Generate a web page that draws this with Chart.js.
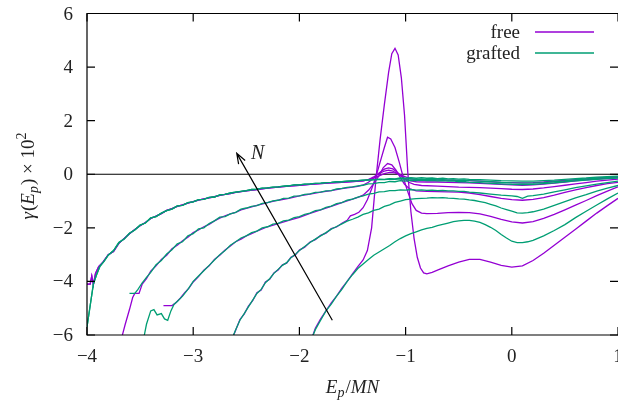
<!DOCTYPE html>
<html>
<head>
<meta charset="utf-8">
<script src="https://cdn.jsdelivr.net/npm/chart.js@4.4.1/dist/chart.umd.min.js"></script>
<style>
  html, body { margin: 0; padding: 0; background: #fff; }
  #wrap { width: 618px; height: 402px; position: relative; }
</style>
</head>
<body>
<div id="wrap"><canvas id="chartGamma"></canvas></div>
<script>
// axis ticks
const xTicks = [-4, -3, -2, -1, 0, 1];
const yTicks = [-6, -4, -2, 0, 2, 4, 6];
const legendLabels = ['free', 'grafted'];

// shared left branch of the two largest N (they collapse on each other)
const topLeftFree = [[-4.00,-4.1],[-3.97,-4.1],[-3.955,-3.8],[-3.94,-4.12],[-3.92,-3.7],[-3.89,-3.45],[-3.85,-3.28],[-3.80,-3.0],[-3.75,-2.88],[-3.70,-2.58],[-3.65,-2.4],[-3.60,-2.22],[-3.55,-2.06],[-3.50,-1.92],[-3.45,-1.8],[-3.40,-1.65],[-3.35,-1.56],[-3.30,-1.47],[-3.25,-1.35],[-3.20,-1.28],[-3.15,-1.2],[-3.10,-1.14],[-3.05,-1.08],[-3.00,-1.02],[-2.95,-0.97],[-2.90,-0.92],[-2.85,-0.88],[-2.80,-0.84],[-2.75,-0.79],[-2.70,-0.75],[-2.65,-0.72],[-2.60,-0.68],[-2.55,-0.65],[-2.50,-0.62],[-2.40,-0.57],[-2.30,-0.52],[-2.20,-0.48],[-2.10,-0.44],[-2.00,-0.41],[-1.90,-0.38],[-1.80,-0.35],[-1.70,-0.32],[-1.60,-0.3],[-1.50,-0.27],[-1.40,-0.25]];
const topLeftGrafted = [[-4.00,-5.7],[-3.97,-4.9],[-3.94,-4.1],[-3.91,-3.75],[-3.88,-3.45],[-3.84,-3.25],[-3.80,-3.02],[-3.75,-2.85],[-3.70,-2.55],[-3.65,-2.42],[-3.60,-2.2],[-3.55,-2.08],[-3.50,-1.9],[-3.45,-1.82],[-3.40,-1.63],[-3.35,-1.58],[-3.30,-1.45],[-3.25,-1.36],[-3.20,-1.3],[-3.15,-1.18],[-3.10,-1.16],[-3.05,-1.06],[-3.00,-1.03],[-2.95,-0.95],[-2.90,-0.94],[-2.85,-0.86],[-2.80,-0.85],[-2.75,-0.77],[-2.70,-0.75],[-2.65,-0.7],[-2.60,-0.67],[-2.55,-0.64],[-2.50,-0.61],[-2.45,-0.57],[-2.40,-0.56],[-2.35,-0.52],[-2.30,-0.51],[-2.25,-0.48],[-2.20,-0.47],[-2.15,-0.44],[-2.10,-0.43],[-2.05,-0.4],[-2.00,-0.4],[-1.95,-0.37],[-1.90,-0.36],[-1.85,-0.34],[-1.80,-0.33],[-1.75,-0.31],[-1.70,-0.3],[-1.65,-0.28],[-1.60,-0.28],[-1.55,-0.26],[-1.50,-0.25],[-1.45,-0.24],[-1.40,-0.22]];

// largest N
const freeN6Right = [[-1.35,-0.2],[-1.30,-0.14],[-1.25,-0.06],[-1.20,0.02],[-1.15,0.07],[-1.10,0.05],[-1.05,-0.02],[-1.00,-0.1],[-0.95,-0.17],[-0.90,-0.2],[-0.80,-0.21],[-0.70,-0.21],[-0.60,-0.22],[-0.50,-0.23],[-0.40,-0.24],[-0.30,-0.26],[-0.20,-0.28],[-0.10,-0.3],[0.00,-0.31],[0.10,-0.32],[0.20,-0.31],[0.30,-0.29],[0.40,-0.26],[0.50,-0.23],[0.60,-0.2],[0.70,-0.17],[0.80,-0.14],[0.90,-0.12],[1.00,-0.1]];
const graftedN6Right = [[-1.35,-0.21],[-1.30,-0.2],[-1.25,-0.18],[-1.20,-0.19],[-1.15,-0.16],[-1.10,-0.17],[-1.05,-0.14],[-1.00,-0.15],[-0.95,-0.13],[-0.90,-0.15],[-0.85,-0.13],[-0.80,-0.15],[-0.75,-0.14],[-0.70,-0.16],[-0.65,-0.15],[-0.60,-0.17],[-0.55,-0.16],[-0.50,-0.18],[-0.45,-0.17],[-0.40,-0.19],[-0.30,-0.2],[-0.20,-0.22],[-0.10,-0.24],[0.00,-0.25],[0.10,-0.26],[0.20,-0.26],[0.30,-0.24],[0.40,-0.22],[0.50,-0.19],[0.60,-0.16],[0.70,-0.14],[0.80,-0.11],[0.90,-0.09],[1.00,-0.07]];

const freeN5Right = [[-1.35,-0.2],[-1.30,-0.1],[-1.25,0.02],[-1.20,0.12],[-1.16,0.15],[-1.12,0.12],[-1.08,0.03],[-1.04,-0.08],[-1.00,-0.18],[-0.95,-0.25],[-0.90,-0.28],[-0.80,-0.29],[-0.70,-0.29],[-0.60,-0.3],[-0.50,-0.31],[-0.40,-0.32],[-0.30,-0.34],[-0.20,-0.36],[-0.10,-0.38],[0.00,-0.4],[0.10,-0.41],[0.20,-0.4],[0.30,-0.37],[0.40,-0.33],[0.50,-0.29],[0.60,-0.25],[0.70,-0.21],[0.80,-0.18],[0.90,-0.15],[1.00,-0.12]];
const graftedN5Right = [[-1.35,-0.22],[-1.30,-0.21],[-1.25,-0.2],[-1.20,-0.2],[-1.15,-0.18],[-1.10,-0.19],[-1.05,-0.17],[-1.00,-0.18],[-0.95,-0.17],[-0.90,-0.19],[-0.85,-0.18],[-0.80,-0.2],[-0.75,-0.19],[-0.70,-0.21],[-0.65,-0.2],[-0.60,-0.22],[-0.55,-0.21],[-0.50,-0.23],[-0.45,-0.22],[-0.40,-0.24],[-0.30,-0.26],[-0.20,-0.28],[-0.10,-0.3],[0.00,-0.32],[0.10,-0.33],[0.20,-0.33],[0.30,-0.31],[0.40,-0.28],[0.50,-0.25],[0.60,-0.21],[0.70,-0.18],[0.80,-0.15],[0.90,-0.12],[1.00,-0.1]];

const freeN4 = [[-3.68,-6.2],[-3.64,-5.6],[-3.60,-5.05],[-3.57,-4.6],[-3.55,-4.45],[-3.51,-4.45],[-3.48,-4.1],[-3.44,-3.9],[-3.40,-3.62],[-3.35,-3.42],[-3.30,-3.18],[-3.25,-3.02],[-3.20,-2.78],[-3.15,-2.65],[-3.10,-2.48],[-3.05,-2.35],[-3.00,-2.18],[-2.95,-2.08],[-2.90,-1.96],[-2.85,-1.87],[-2.80,-1.74],[-2.75,-1.64],[-2.70,-1.55],[-2.65,-1.48],[-2.60,-1.42],[-2.55,-1.33],[-2.50,-1.27],[-2.40,-1.16],[-2.30,-1.06],[-2.20,-0.97],[-2.10,-0.9],[-2.00,-0.81],[-1.90,-0.74],[-1.80,-0.67],[-1.70,-0.61],[-1.60,-0.54],[-1.50,-0.48],[-1.45,-0.45],[-1.40,-0.4],[-1.35,-0.3],[-1.30,-0.15],[-1.25,0.05],[-1.20,0.19],[-1.16,0.24],[-1.12,0.2],[-1.07,0.05],[-1.02,-0.15],[-0.97,-0.3],[-0.92,-0.38],[-0.85,-0.42],[-0.70,-0.44],[-0.60,-0.46],[-0.50,-0.48],[-0.40,-0.49],[-0.30,-0.5],[-0.20,-0.52],[-0.10,-0.54],[0.00,-0.56],[0.10,-0.57],[0.20,-0.55],[0.30,-0.51],[0.40,-0.46],[0.50,-0.41],[0.60,-0.36],[0.70,-0.31],[0.80,-0.26],[0.90,-0.22],[1.00,-0.18]];
const graftedN4 = [[-3.60,-4.45],[-3.55,-4.45],[-3.52,-4.3],[-3.48,-4.05],[-3.44,-3.85],[-3.40,-3.66],[-3.35,-3.38],[-3.30,-3.22],[-3.25,-2.98],[-3.20,-2.82],[-3.15,-2.6],[-3.10,-2.52],[-3.05,-2.3],[-3.00,-2.22],[-2.95,-2.04],[-2.90,-2.0],[-2.85,-1.84],[-2.80,-1.74],[-2.75,-1.6],[-2.70,-1.58],[-2.65,-1.48],[-2.60,-1.42],[-2.55,-1.3],[-2.50,-1.26],[-2.45,-1.2],[-2.40,-1.17],[-2.35,-1.09],[-2.30,-1.06],[-2.25,-0.99],[-2.20,-0.97],[-2.15,-0.9],[-2.10,-0.89],[-2.05,-0.82],[-2.00,-0.81],[-1.95,-0.75],[-1.90,-0.73],[-1.85,-0.68],[-1.80,-0.67],[-1.75,-0.62],[-1.70,-0.61],[-1.65,-0.55],[-1.60,-0.53],[-1.55,-0.49],[-1.50,-0.47],[-1.45,-0.43],[-1.40,-0.41],[-1.35,-0.36],[-1.30,-0.35],[-1.25,-0.31],[-1.20,-0.31],[-1.15,-0.27],[-1.10,-0.28],[-1.05,-0.24],[-1.00,-0.26],[-0.95,-0.23],[-0.90,-0.24],[-0.85,-0.22],[-0.80,-0.24],[-0.75,-0.23],[-0.70,-0.25],[-0.65,-0.24],[-0.60,-0.26],[-0.55,-0.25],[-0.50,-0.28],[-0.45,-0.27],[-0.40,-0.3],[-0.30,-0.31],[-0.20,-0.34],[-0.10,-0.36],[0.00,-0.38],[0.10,-0.39],[0.20,-0.38],[0.30,-0.35],[0.40,-0.32],[0.50,-0.28],[0.60,-0.25],[0.70,-0.22],[0.80,-0.19],[0.90,-0.16],[1.00,-0.14]];

const freeN3 = [[-3.28,-4.9],[-3.20,-4.9],[-3.17,-4.82],[-3.12,-4.62],[-3.08,-4.42],[-3.04,-4.25],[-3.00,-4.02],[-2.95,-3.82],[-2.90,-3.58],[-2.85,-3.42],[-2.80,-3.18],[-2.75,-3.02],[-2.70,-2.83],[-2.65,-2.68],[-2.60,-2.52],[-2.55,-2.42],[-2.50,-2.3],[-2.45,-2.22],[-2.40,-2.12],[-2.30,-1.96],[-2.20,-1.84],[-2.10,-1.72],[-2.00,-1.61],[-1.90,-1.46],[-1.80,-1.33],[-1.70,-1.2],[-1.60,-1.06],[-1.50,-0.93],[-1.45,-0.86],[-1.40,-0.78],[-1.35,-0.6],[-1.30,-0.35],[-1.25,-0.05],[-1.21,0.25],[-1.17,0.4],[-1.13,0.35],[-1.09,0.15],[-1.05,-0.12],[-1.01,-0.38],[-0.96,-0.55],[-0.90,-0.62],[-0.80,-0.64],[-0.70,-0.65],[-0.60,-0.66],[-0.50,-0.67],[-0.40,-0.7],[-0.30,-0.76],[-0.20,-0.83],[-0.10,-0.9],[0.00,-0.95],[0.10,-0.97],[0.20,-0.94],[0.30,-0.87],[0.40,-0.78],[0.50,-0.68],[0.60,-0.58],[0.70,-0.5],[0.80,-0.42],[0.90,-0.35],[1.00,-0.3]];
const graftedN3 = [[-3.47,-6.2],[-3.44,-5.6],[-3.40,-5.1],[-3.37,-5.05],[-3.34,-5.25],[-3.30,-5.2],[-3.27,-5.4],[-3.24,-5.45],[-3.21,-5.1],[-3.18,-4.85],[-3.15,-4.75],[-3.10,-4.55],[-3.05,-4.3],[-3.00,-4.0],[-2.95,-3.8],[-2.90,-3.6],[-2.85,-3.4],[-2.80,-3.2],[-2.75,-3.0],[-2.70,-2.85],[-2.65,-2.65],[-2.60,-2.52],[-2.55,-2.38],[-2.50,-2.3],[-2.45,-2.18],[-2.40,-2.12],[-2.35,-2.0],[-2.30,-1.96],[-2.25,-1.86],[-2.20,-1.83],[-2.15,-1.74],[-2.10,-1.71],[-2.05,-1.62],[-2.00,-1.58],[-1.95,-1.5],[-1.90,-1.45],[-1.85,-1.36],[-1.80,-1.33],[-1.75,-1.24],[-1.70,-1.19],[-1.65,-1.1],[-1.60,-1.06],[-1.55,-0.97],[-1.50,-0.93],[-1.45,-0.85],[-1.40,-0.81],[-1.35,-0.74],[-1.30,-0.71],[-1.25,-0.66],[-1.20,-0.65],[-1.15,-0.61],[-1.10,-0.61],[-1.05,-0.58],[-1.00,-0.59],[-0.95,-0.57],[-0.90,-0.59],[-0.85,-0.58],[-0.80,-0.6],[-0.75,-0.59],[-0.70,-0.61],[-0.65,-0.6],[-0.60,-0.62],[-0.55,-0.62],[-0.50,-0.64],[-0.45,-0.64],[-0.40,-0.67],[-0.30,-0.7],[-0.20,-0.74],[-0.10,-0.78],[0.00,-0.81],[0.05,-0.83],[0.10,-0.9],[0.15,-0.82],[0.20,-0.8],[0.30,-0.74],[0.40,-0.66],[0.50,-0.58],[0.60,-0.5],[0.70,-0.43],[0.80,-0.37],[0.90,-0.31],[1.00,-0.26]];

const freeN2 = [[-2.64,-6.2],[-2.60,-5.82],[-2.56,-5.42],[-2.52,-5.22],[-2.48,-4.92],[-2.44,-4.72],[-2.40,-4.42],[-2.36,-4.32],[-2.32,-4.02],[-2.28,-3.92],[-2.24,-3.68],[-2.20,-3.57],[-2.16,-3.38],[-2.12,-3.32],[-2.08,-3.1],[-2.04,-3.02],[-2.00,-2.83],[-1.95,-2.72],[-1.90,-2.53],[-1.85,-2.44],[-1.80,-2.28],[-1.75,-2.2],[-1.70,-2.03],[-1.65,-1.97],[-1.60,-1.83],[-1.55,-1.72],[-1.52,-1.55],[-1.48,-1.5],[-1.44,-1.42],[-1.40,-1.25],[-1.36,-0.95],[-1.32,-0.55],[-1.28,-0.1],[-1.24,0.45],[-1.20,1.0],[-1.17,1.38],[-1.14,1.32],[-1.10,1.0],[-1.06,0.45],[-1.02,-0.15],[-0.98,-0.65],[-0.94,-1.1],[-0.90,-1.35],[-0.85,-1.45],[-0.80,-1.47],[-0.70,-1.46],[-0.60,-1.43],[-0.50,-1.42],[-0.40,-1.43],[-0.30,-1.48],[-0.20,-1.57],[-0.10,-1.68],[0.00,-1.78],[0.10,-1.82],[0.20,-1.77],[0.30,-1.65],[0.40,-1.5],[0.50,-1.33],[0.60,-1.15],[0.70,-0.98],[0.80,-0.8],[0.90,-0.63],[1.00,-0.47]];
const graftedN2 = [[-2.64,-6.2],[-2.60,-5.8],[-2.56,-5.45],[-2.52,-5.2],[-2.48,-4.95],[-2.44,-4.7],[-2.40,-4.45],[-2.36,-4.3],[-2.32,-4.05],[-2.28,-3.9],[-2.24,-3.7],[-2.20,-3.55],[-2.16,-3.4],[-2.12,-3.3],[-2.08,-3.12],[-2.04,-3.0],[-2.00,-2.85],[-1.95,-2.7],[-1.90,-2.55],[-1.85,-2.42],[-1.80,-2.3],[-1.75,-2.18],[-1.70,-2.05],[-1.65,-1.95],[-1.60,-1.85],[-1.55,-1.75],[-1.50,-1.68],[-1.45,-1.6],[-1.40,-1.5],[-1.35,-1.44],[-1.30,-1.35],[-1.25,-1.3],[-1.20,-1.2],[-1.15,-1.14],[-1.10,-1.05],[-1.05,-1.0],[-1.00,-0.95],[-0.95,-0.93],[-0.90,-0.91],[-0.85,-0.9],[-0.80,-0.89],[-0.75,-0.87],[-0.70,-0.88],[-0.65,-0.87],[-0.60,-0.89],[-0.55,-0.9],[-0.50,-0.92],[-0.45,-0.93],[-0.40,-0.96],[-0.35,-0.98],[-0.30,-1.02],[-0.25,-1.06],[-0.20,-1.12],[-0.15,-1.18],[-0.10,-1.26],[-0.05,-1.32],[0.00,-1.38],[0.05,-1.44],[0.10,-1.45],[0.15,-1.43],[0.20,-1.4],[0.30,-1.3],[0.40,-1.16],[0.50,-1.02],[0.60,-0.88],[0.70,-0.76],[0.80,-0.63],[0.90,-0.52],[1.00,-0.42]];

// smallest N
const freeN1 = [[-1.89,-6.2],[-1.85,-5.75],[-1.80,-5.4],[-1.75,-5.1],[-1.70,-4.8],[-1.65,-4.55],[-1.60,-4.25],[-1.55,-4.0],[-1.50,-3.72],[-1.45,-3.45],[-1.40,-3.2],[-1.36,-2.85],[-1.32,-2.0],[-1.28,-0.2],[-1.24,1.3],[-1.20,2.6],[-1.16,3.8],[-1.13,4.5],[-1.10,4.7],[-1.07,4.45],[-1.04,3.6],[-1.01,2.2],[-0.98,0.1],[-0.95,-1.4],[-0.92,-2.4],[-0.89,-3.1],[-0.86,-3.5],[-0.83,-3.68],[-0.80,-3.72],[-0.75,-3.66],[-0.70,-3.58],[-0.60,-3.42],[-0.50,-3.28],[-0.40,-3.18],[-0.30,-3.18],[-0.20,-3.28],[-0.10,-3.4],[0.00,-3.47],[0.10,-3.42],[0.20,-3.22],[0.30,-2.95],[0.40,-2.65],[0.50,-2.35],[0.60,-2.05],[0.70,-1.75],[0.80,-1.45],[0.90,-1.17],[1.00,-0.9]];
const graftedN1 = [[-1.89,-6.2],[-1.85,-5.8],[-1.80,-5.45],[-1.75,-5.1],[-1.70,-4.85],[-1.65,-4.55],[-1.60,-4.3],[-1.55,-4.0],[-1.50,-3.75],[-1.45,-3.52],[-1.40,-3.35],[-1.35,-3.18],[-1.30,-3.02],[-1.25,-2.9],[-1.20,-2.78],[-1.15,-2.66],[-1.10,-2.52],[-1.05,-2.4],[-1.00,-2.3],[-0.95,-2.22],[-0.90,-2.15],[-0.85,-2.08],[-0.80,-2.02],[-0.75,-1.98],[-0.70,-1.92],[-0.65,-1.87],[-0.60,-1.82],[-0.55,-1.77],[-0.50,-1.74],[-0.45,-1.72],[-0.40,-1.72],[-0.35,-1.75],[-0.30,-1.8],[-0.25,-1.88],[-0.20,-1.98],[-0.15,-2.1],[-0.10,-2.25],[-0.05,-2.38],[0.00,-2.5],[0.05,-2.55],[0.10,-2.55],[0.15,-2.52],[0.20,-2.47],[0.30,-2.3],[0.40,-2.1],[0.50,-1.88],[0.60,-1.62],[0.70,-1.38],[0.80,-1.15],[0.90,-0.92],[1.00,-0.7]];

// annotation: arrow towards increasing N (data units)
const arrowTail = [-1.69, -5.45];
const arrowHead = [-2.59, 0.78];
const arrowLabelAt = [-2.39, 0.82];

const PURPLE = '#9400d3';
const GREEN = '#009e73';
const SERIF = '"Liberation Serif", "DejaVu Serif", serif';

const toXY = arr => arr.map(p => ({ x: p[0], y: p[1] }));
const freeSeries = [topLeftFree.concat(freeN6Right), topLeftFree.concat(freeN5Right), freeN4, freeN3, freeN2, freeN1];
const graftedSeries = [topLeftGrafted.concat(graftedN6Right), topLeftGrafted.concat(graftedN5Right), graftedN4, graftedN3, graftedN2, graftedN1];

// free first, grafted drawn over them
const datasets = [];
freeSeries.forEach(s => datasets.push({ label: legendLabels[0], data: toXY(s), borderColor: PURPLE, borderWidth: 1.3, pointRadius: 0, showLine: true, fill: false }));
graftedSeries.forEach(s => datasets.push({ label: legendLabels[1], data: toXY(s), borderColor: GREEN, borderWidth: 1.3, pointRadius: 0, showLine: true, fill: false }));
// chart.js draws the first dataset on top, so reverse
datasets.reverse();

function fmt(v){ return v < 0 ? '\u2212' + Math.abs(v) : String(v); }

// draw a run of text pieces (italic, sub/superscript) starting at x
function drawRuns(ctx, runs, x, y, align){
  let total = 0;
  runs.forEach(r => {
    ctx.font = (r.it ? 'italic ' : '') + r.size + 'px ' + SERIF;
    r.w = ctx.measureText(r.t).width + (r.gap || 0);
    total += r.w;
  });
  let cx = align === 'center' ? x - total / 2 : x;
  runs.forEach(r => {
    ctx.font = (r.it ? 'italic ' : '') + r.size + 'px ' + SERIF;
    ctx.fillText(r.t, cx, y + (r.dy || 0));
    cx += r.w;
  });
}

const decorations = {
  id: 'decorations',
  beforeDatasetsDraw(chart){
    const { ctx, chartArea: a, scales: { x, y } } = chart;
    ctx.save();
    ctx.strokeStyle = '#000';
    ctx.lineWidth = 1.2;
    const y0 = y.getPixelForValue(0);
    ctx.beginPath(); ctx.moveTo(a.left, y0); ctx.lineTo(a.right, y0); ctx.stroke();
    ctx.restore();
  },
  afterDatasetsDraw(chart){
    const { ctx, chartArea: a, scales: { x, y } } = chart;
    ctx.save();
    ctx.strokeStyle = '#000';
    ctx.fillStyle = '#222';
    ctx.lineWidth = 1.2;

    // frame (left, top, bottom)
    ctx.beginPath();
    ctx.moveTo(a.right, a.top); ctx.lineTo(a.left, a.top); ctx.lineTo(a.left, a.bottom); ctx.lineTo(a.right, a.bottom);
    ctx.stroke();

    // inward ticks
    const tl = 8;
    ctx.beginPath();
    xTicks.forEach(v => {
      const px = x.getPixelForValue(v);
      ctx.moveTo(px, a.bottom); ctx.lineTo(px, a.bottom - tl);
      ctx.moveTo(px, a.top); ctx.lineTo(px, a.top + tl);
    });
    yTicks.forEach(v => {
      const py = y.getPixelForValue(v);
      ctx.moveTo(a.left, py); ctx.lineTo(a.left + tl, py);
      ctx.moveTo(a.right, py); ctx.lineTo(a.right - tl, py);
    });
    ctx.stroke();

    // tick labels
    ctx.font = '19px ' + SERIF;
    ctx.textBaseline = 'alphabetic';
    ctx.textAlign = 'center';
    xTicks.forEach(v => ctx.fillText(fmt(v), x.getPixelForValue(v), a.bottom + 27));
    ctx.textAlign = 'right';
    yTicks.forEach(v => ctx.fillText(fmt(v), a.left - 14, y.getPixelForValue(v) + 6));

    // arrow
    const tx = x.getPixelForValue(arrowTail[0]), ty = y.getPixelForValue(arrowTail[1]);
    const hx = x.getPixelForValue(arrowHead[0]), hy = y.getPixelForValue(arrowHead[1]);
    const ang = Math.atan2(ty - hy, tx - hx);
    const hl = 11, spread = 0.35;
    ctx.beginPath();
    ctx.moveTo(tx, ty); ctx.lineTo(hx, hy);
    ctx.moveTo(hx + hl * Math.cos(ang - spread), hy + hl * Math.sin(ang - spread));
    ctx.lineTo(hx, hy);
    ctx.lineTo(hx + hl * Math.cos(ang + spread), hy + hl * Math.sin(ang + spread));
    ctx.stroke();
    ctx.textAlign = 'left';
    drawRuns(ctx, [{ t: 'N', it: true, size: 20 }], x.getPixelForValue(arrowLabelAt[0]) - 7, y.getPixelForValue(arrowLabelAt[1]) + 7, 'left');

    // legend (text left of the line sample)
    const legX = 520, legY = [32, 53], colors = [PURPLE, GREEN];
    legendLabels.forEach((lab, i) => {
      ctx.font = '19px ' + SERIF;
      ctx.textAlign = 'right';
      ctx.fillStyle = '#222';
      ctx.fillText(lab, legX, legY[i] + 6);
      ctx.strokeStyle = colors[i];
      ctx.lineWidth = 1.3;
      ctx.beginPath(); ctx.moveTo(535, legY[i]); ctx.lineTo(594, legY[i]); ctx.stroke();
    });

    // axis titles
    ctx.fillStyle = '#222';
    ctx.textAlign = 'left';
    drawRuns(ctx, [
      { t: 'E', it: true, size: 19 },
      { t: 'p', it: true, size: 14, dy: 4, gap: 1 },
      { t: '/', size: 19 },
      { t: 'MN', it: true, size: 19 }
    ], (a.left + a.right) / 2, 393, 'center');

    ctx.translate(34, 176);
    ctx.rotate(-Math.PI / 2);
    drawRuns(ctx, [
      { t: '\u03b3', it: true, size: 19, gap: 1 },
      { t: '(', size: 19 },
      { t: 'E', it: true, size: 19 },
      { t: 'p', it: true, size: 14, dy: 4, gap: 1 },
      { t: ')', size: 19 },
      { t: ' \u00d7 10', size: 19 },
      { t: '2', size: 14, dy: -8 }
    ], 0, 0, 'center');
    ctx.restore();
  }
};

new Chart(document.getElementById('chartGamma'), {
  type: 'scatter',
  data: { datasets },
  options: {
    responsive: true,
    maintainAspectRatio: false,
    animation: false,
    layout: { padding: { left: 87, top: 13.5, right: 0, bottom: 67 } },
    plugins: { legend: { display: false }, tooltip: { enabled: false } },
    elements: { line: { tension: 0 } },
    scales: {
      x: { type: 'linear', min: -4, max: 1, display: false },
      y: { type: 'linear', min: -6, max: 6, display: false }
    }
  },
  plugins: [decorations]
});
</script>
</body>
</html>
